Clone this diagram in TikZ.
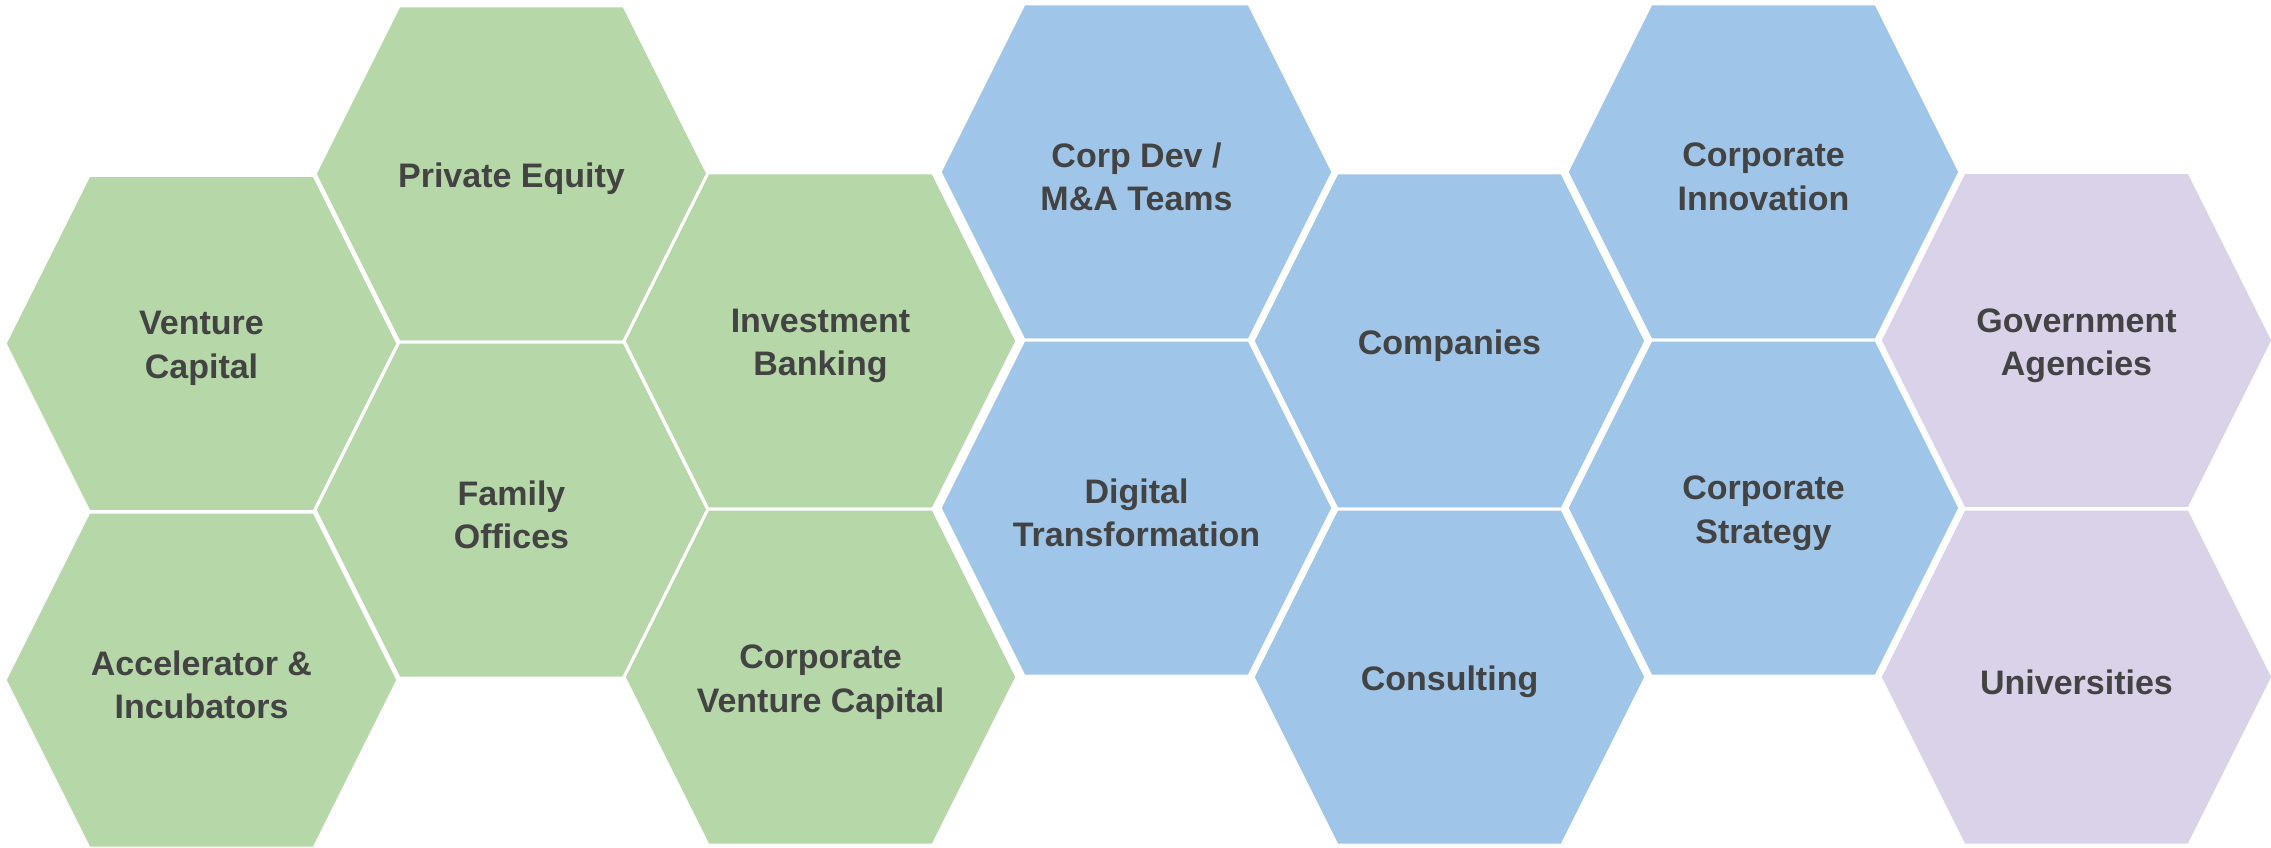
\documentclass[tikz,border=0pt]{standalone}
\usepackage{fontspec}
\setmainfont{Liberation Sans}
\definecolor{hgreen}{HTML}{B6D7A8}
\definecolor{hblue}{HTML}{9FC5E8}
\definecolor{hpurple}{HTML}{D9D2E9}
\definecolor{htext}{HTML}{434343}
\tikzset{
  lbl/.style={align=center, text=htext, inner sep=0pt, yshift=-5pt,
    font=\fontsize{34}{43.5}\selectfont\bfseries},
  hexfill/.style={fill=#1, draw=white, line width=3pt, line join=miter}
}
\newcommand{\hexcell}[5]{%
  \begin{scope}[shift={(#2,#3)}]
    \path[hexfill=#4] (-196.5,0) -- (-112.5,-168) -- (112.5,-168) -- (196.5,0)
      -- (112.5,168) -- (-112.5,168) -- cycle;
  \end{scope}
  \node[lbl] (#1) at (#2,#3) {#5};%
}
\begin{document}
\begin{tikzpicture}[x=1pt,y=-1pt]
\useasboundingbox (0,0) rectangle (2271,848);
\clip (0,0) rectangle (2271,848);
% column 1
\hexcell{vc}{201.5}{343.5}{hgreen}{Venture\\Capital}
\hexcell{acc}{201.5}{680}{hgreen}{Accelerator \&\\Incubators}
% column 2
\hexcell{pe}{511.5}{174}{hgreen}{Private Equity}
\hexcell{fo}{511.5}{510}{hgreen}{Family\\Offices}
% column 3
\hexcell{ib}{820.5}{341}{hgreen}{Investment\\Banking}
\hexcell{cvc}{820.5}{677}{hgreen}{Corporate\\Venture Capital}
% column 4
\hexcell{cd}{1136.5}{172}{hblue}{Corp Dev /\\M\&A Teams}
\hexcell{dt}{1136.5}{508}{hblue}{Digital\\Transformation}
% column 5
\hexcell{co}{1449.5}{341}{hblue}{Companies}
\hexcell{cons}{1449.5}{677}{hblue}{Consulting}
% column 6
\hexcell{ci}{1763.5}{172}{hblue}{Corporate\\Innovation}
\hexcell{cs}{1763.5}{508}{hblue}{Corporate\\Strategy}
% column 7
\hexcell{ga}{2076.5}{340.5}{hpurple}{Government\\Agencies}
\hexcell{un}{2076.5}{677}{hpurple}{Universities}
\end{tikzpicture}
\end{document}
